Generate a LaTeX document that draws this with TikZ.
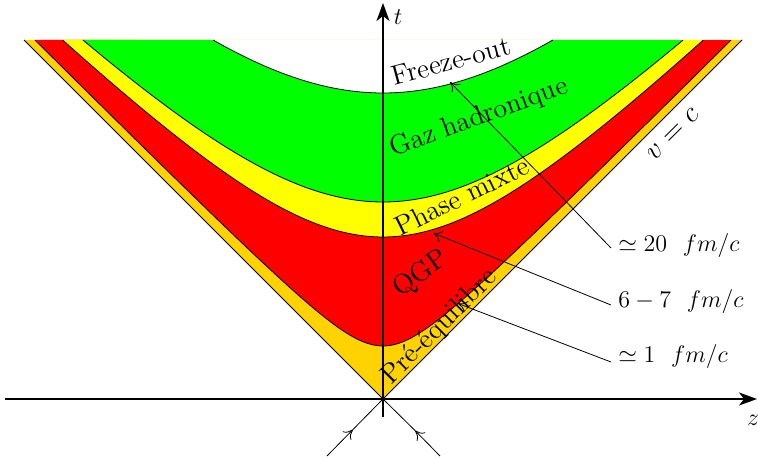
\documentclass[tikz,border=0pt]{standalone}
\usetikzlibrary{arrows.meta}
\definecolor{bandorange}{RGB}{255,210,0}
\definecolor{bandred}{RGB}{255,0,0}
\definecolor{bandyellow}{RGB}{255,255,0}
\definecolor{bandgreen}{RGB}{0,255,0}
\begin{document}
\begin{tikzpicture}[x=50pt,y=50pt,
  boundary/.style={line width=0.4pt},
  lbl/.style={font=\large, inner sep=0pt},
  reg/.style={font=\fontsize{13.8}{16}\selectfont, inner sep=0pt},
  leader/.style={line width=0.4pt, -{To[length=4.5pt,width=6pt]}},
  axisline/.style={line width=1pt, -{Stealth[length=9pt,width=6.5pt,inset=2.5pt]}}]
\useasboundingbox (-3.83,-0.60) rectangle (3.75,3.99);
% key points
\coordinate (O) at (0,0);
\coordinate (TL) at (-3.59,3.59);
\coordinate (TR) at (3.59,3.59);
% bands
\fill[bandorange] (O) -- (TL) -- (TR) -- cycle;
\fill[bandred] plot[domain=-3.481:3.481, samples=120] (\x,{0.08+sqrt(0.2025+\x*\x)}) -- cycle;
\fill[bandyellow] plot[domain=-3.2037:3.2037, samples=120] (\x,{sqrt(2.6244+\x*\x)}) -- cycle;
\fill[bandgreen] plot[domain=-3.0012:3.0012, samples=120] (\x,{sqrt(3.8809+\x*\x)}) -- cycle;
\fill[white] plot[domain=-1.6996:1.6996, samples=120] (\x,{0.60+sqrt(6.0516+\x*\x)}) -- cycle;
% boundaries
\draw[boundary] plot[domain=-3.481:3.481, samples=120] (\x,{0.08+sqrt(0.2025+\x*\x)});
\draw[boundary] plot[domain=-3.2037:3.2037, samples=120] (\x,{sqrt(2.6244+\x*\x)});
\draw[boundary] plot[domain=-3.0012:3.0012, samples=120] (\x,{sqrt(3.8809+\x*\x)});
\draw[boundary] plot[domain=-1.6996:1.6996, samples=120] (\x,{0.60+sqrt(6.0516+\x*\x)});
\draw[boundary] (TL) -- (O) -- (TR);
% incoming lines
\coordinate (inL) at (-0.56,-0.57);
\coordinate (mL) at (-0.30,-0.305);
\coordinate (inR) at (0.57,-0.57);
\coordinate (mR) at (0.32,-0.315);
\draw[leader] (inL) -- (mL);
\draw[boundary] (mL) -- (O);
\draw[leader] (inR) -- (mR);
\draw[boundary] (mR) -- (O);
% axes
\coordinate (zs) at (-3.78,0);
\coordinate (ze) at (3.74,0);
\coordinate (ts) at (0,-0.18);
\coordinate (te) at (0,3.96);
\draw[axisline] (zs) -- (ze);
\draw[axisline] (ts) -- (te);
\node[lbl] (tl) at (0.15,3.82) {$t$};
\node[lbl] (zl) at (3.70,-0.21) {$z$};
% region labels
\node[reg, rotate=15] (fo) at (0.68,3.38) {Freeze-out};
\node[reg, rotate=20] (gh) at (0.96,2.81) {Gaz hadronique};
\node[reg, rotate=26] (pm) at (0.79,2.03) {Phase mixte};
\node[reg, rotate=35] (qgp) at (0.38,1.25) {QGP};
\node[reg, rotate=45] (pe) at (0.57,0.72) {Pré-équilibre};
\node[reg, rotate=45] (vc) at (2.90,2.65) {$v=c$};
% time labels
\node[lbl, anchor=west] (l20) at (2.35,1.53) {$\simeq 20\ \ fm/c$};
\node[lbl, anchor=west] (l67) at (2.35,0.97) {$6-7\ \ fm/c$};
\node[lbl, anchor=west] (l1) at (2.35,0.42) {$\simeq 1\ \ fm/c$};
% leaders
\coordinate (a20) at (0.67,3.17);
\coordinate (a67) at (0.50,1.66);
\coordinate (a1) at (0.75,0.955);
\draw[leader] (l20.west) ++(-0.07,-0.02) -- (a20);
\draw[leader] (l67.west) ++(-0.07,-0.03) -- (a67);
\draw[leader] (l1.west) ++(-0.07,-0.05) -- (a1);
\end{tikzpicture}
\end{document}
